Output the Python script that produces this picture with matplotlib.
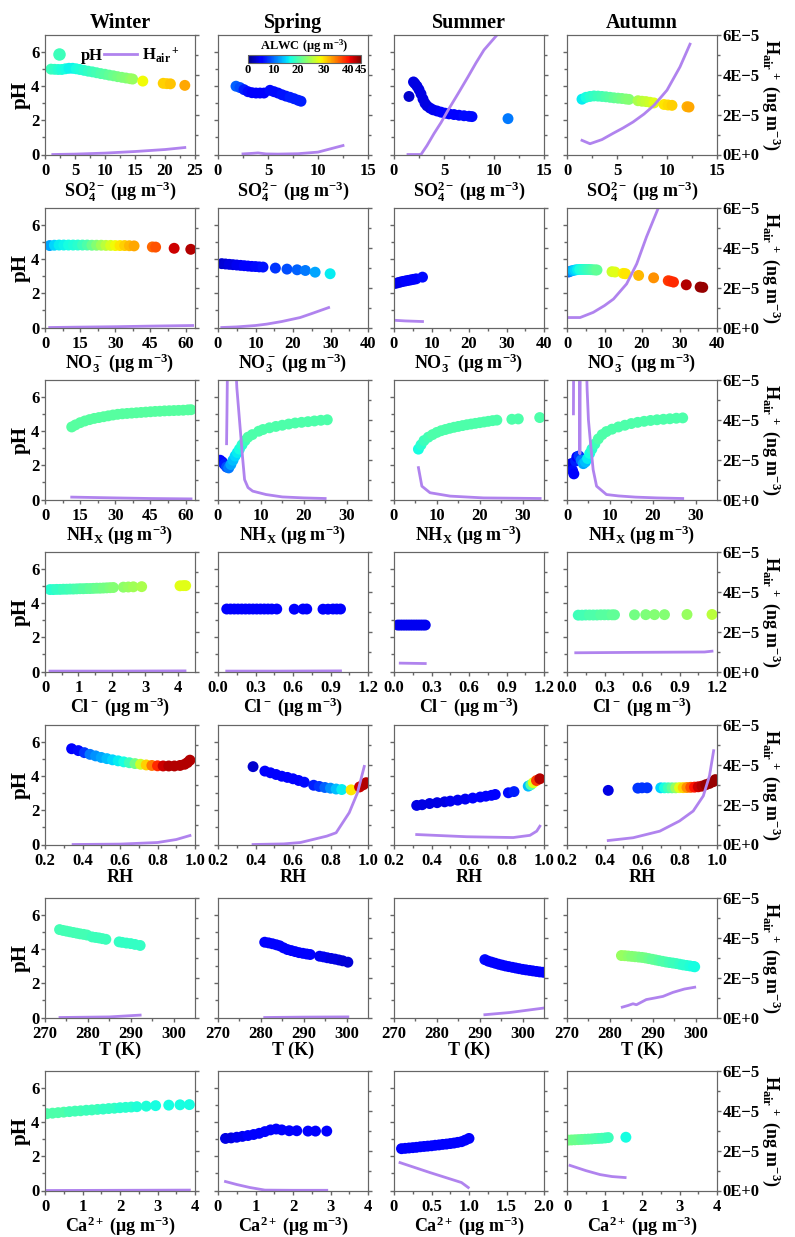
import numpy as np
import matplotlib
matplotlib.use("Agg")
import matplotlib.pyplot as plt
from matplotlib.lines import Line2D
from matplotlib.ticker import FixedLocator, FuncFormatter

plt.rcParams['font.family'] = 'Liberation Serif'
plt.rcParams['font.weight'] = 'bold'
plt.rcParams['mathtext.fontset'] = 'custom'
plt.rcParams['mathtext.rm'] = 'Liberation Serif:bold'
plt.rcParams['mathtext.it'] = 'Liberation Serif:italic:bold'
plt.rcParams['mathtext.bf'] = 'Liberation Serif:bold'

# -----------------------------
# data: x, pH, ALWC (ug m-3) for the dots; hx, h5 (H_air+ in 1E-5 ng m-3) for the line
# -----------------------------
seasons = ["Winter", "Spring", "Summer", "Autumn"]

# SO4
so4_win_x = [1.0, 1.6, 2.2, 2.8, 3.4, 4.0, 4.6, 5.2, 5.8, 6.5, 7.2, 7.9, 8.6, 9.3, 10.0, 10.7, 11.4, 12.1, 12.8, 13.5, 14.2, 14.6, 16.3, 19.7, 20.3, 20.9, 23.3]
so4_win_ph = [5.0, 4.99, 4.98, 4.98, 5.02, 5.05, 5.05, 5.02, 4.98, 4.93, 4.88, 4.84, 4.79, 4.74, 4.7, 4.65, 4.61, 4.56, 4.52, 4.48, 4.44, 4.42, 4.3, 4.17, 4.15, 4.14, 4.05]
so4_win_alwc = [19, 18.5, 18, 17.5, 17, 16.5, 16.5, 17, 17.5, 18, 18.5, 19, 19.5, 20, 20.5, 21, 21.5, 22, 22.5, 23, 23.5, 24, 29, 31, 31, 31.5, 33]
so4_win_hx = [1.3, 5, 10, 15, 20, 23.3]
so4_win_h5 = [0.0, 0.02, 0.07, 0.15, 0.25, 0.35]

so4_spr_x = [1.8, 2.2, 2.6, 3.0, 3.4, 3.8, 4.2, 4.6, 5.2, 5.6, 6.0, 6.4, 6.8, 7.2, 7.6, 8.0, 8.3]
so4_spr_ph = [4.0, 3.92, 3.8, 3.68, 3.62, 3.6, 3.6, 3.6, 3.76, 3.68, 3.6, 3.5, 3.42, 3.35, 3.27, 3.18, 3.12]
so4_spr_alwc = [10, 9, 7, 6, 5, 5, 5, 5, 6, 6, 6, 6.5, 6.5, 7, 7, 7, 7]
so4_spr_hx = [2.5, 3.5, 4.0, 4.8, 6, 8, 10, 12.5]
so4_spr_h5 = [0.03, 0.06, 0.08, 0.03, 0.02, 0.04, 0.12, 0.45]

so4_sum_x = [1.5, 1.95, 2.1, 2.3, 2.5, 2.7, 2.9, 3.1, 3.3, 3.6, 3.9, 4.3, 4.7, 5.1, 5.5, 6.0, 6.5, 7.0, 7.5, 7.8, 11.4]
so4_sum_ph = [3.4, 4.25, 4.15, 4.0, 3.8, 3.55, 3.25, 3.0, 2.85, 2.72, 2.62, 2.55, 2.48, 2.42, 2.38, 2.34, 2.3, 2.27, 2.24, 2.22, 2.1]
so4_sum_alwc = [3, 4, 4, 4, 4, 4, 4, 4, 4, 4, 4.5, 4.5, 5, 5, 5, 5.5, 5.5, 6, 6, 6, 11]
so4_sum_hx = [1.4, 2.7, 3.3, 4.0, 4.7, 5.4, 6.4, 7.4, 8.2, 9.0, 10.3, 10.6]
so4_sum_h5 = [0.0, 0.0, 0.45, 1.05, 1.6, 2.22, 3.05, 3.9, 4.6, 5.25, 6.0, 6.3]

so4_aut_x = [1.5, 1.9, 2.3, 2.7, 3.1, 3.5, 3.9, 4.3, 4.7, 5.1, 5.5, 5.9, 6.2, 7.1, 7.5, 7.9, 8.3, 8.7, 9.7, 10.1, 10.5, 12.0, 12.2]
so4_aut_ph = [3.24, 3.35, 3.4, 3.43, 3.42, 3.4, 3.38, 3.35, 3.32, 3.3, 3.28, 3.25, 3.23, 3.15, 3.12, 3.1, 3.06, 3.02, 2.93, 2.9, 2.88, 2.8, 2.78]
so4_aut_alwc = [16, 17, 18, 18.5, 19, 19.5, 20, 20.5, 21, 21.5, 22, 22.5, 23, 25, 26, 26.5, 27, 28, 30, 30.5, 31, 32.5, 33]
so4_aut_hx = [1.5, 2.3, 3.5, 4.6, 5.6, 6.6, 7.7, 8.7, 10, 11.3, 12.3]
so4_aut_h5 = [0.71, 0.54, 0.75, 1.06, 1.33, 1.63, 2.03, 2.47, 3.23, 4.4, 5.54]

# NO3
no3_win_x = [2, 4, 6, 8, 10, 12, 14, 16, 18, 20, 22, 24, 26, 28, 30, 32, 34, 36, 38, 45.8, 47.2, 55.1, 62.2]
no3_win_ph = [4.8, 4.82, 4.83, 4.83, 4.83, 4.83, 4.83, 4.83, 4.83, 4.82, 4.82, 4.82, 4.81, 4.81, 4.8, 4.8, 4.8, 4.79, 4.78, 4.72, 4.71, 4.64, 4.58]
no3_win_alwc = [13, 15, 16, 16.5, 17, 17.5, 18, 19, 20, 21.5, 23, 24.5, 26, 27.5, 29, 30, 31, 32, 33, 36, 37, 42, 43]
no3_win_hx = [2, 15, 30, 45, 63]
no3_win_h5 = [0.0, 0.02, 0.04, 0.07, 0.1]

no3_spr_x = [1, 2, 3, 4, 5, 6, 7, 8, 9, 10, 11, 12, 15.3, 18.4, 21.1, 23.3, 25.9, 29.9]
no3_spr_ph = [3.74, 3.72, 3.7, 3.68, 3.66, 3.64, 3.62, 3.6, 3.58, 3.57, 3.55, 3.54, 3.48, 3.42, 3.38, 3.34, 3.24, 3.15]
no3_spr_alwc = [3, 3.5, 4, 4, 4.5, 4.5, 5, 5, 5.5, 6, 6, 6.5, 8, 9, 10, 11, 13, 16]
no3_spr_hx = [1, 5, 10, 13, 17, 21.9, 25, 29.5]
no3_spr_h5 = [0.0, 0.03, 0.1, 0.17, 0.3, 0.5, 0.7, 1.0]

no3_sum_x = [0.3, 1.0, 1.7, 2.4, 3.1, 3.8, 4.5, 5.2, 5.9, 7.6]
no3_sum_ph = [2.58, 2.62, 2.66, 2.7, 2.73, 2.76, 2.79, 2.82, 2.85, 2.95]
no3_sum_alwc = [4, 4, 4.5, 4.5, 5, 5, 5, 5.5, 5.5, 6]
no3_sum_hx = [0.3, 3, 7.6]
no3_sum_h5 = [0.36, 0.33, 0.3]

no3_aut_x = [0.4, 1.0, 1.6, 2.2, 2.8, 3.4, 4.0, 4.6, 5.2, 5.8, 6.4, 7.0, 7.6, 8.0, 12.0, 12.8, 15.0, 15.6, 19.1, 23.1, 27.0, 27.6, 28.4, 31.8, 35.5, 36.2]
no3_aut_ph = [3.25, 3.3, 3.34, 3.37, 3.39, 3.4, 3.4, 3.4, 3.4, 3.4, 3.39, 3.38, 3.37, 3.37, 3.27, 3.25, 3.17, 3.15, 3.05, 2.91, 2.74, 2.71, 2.66, 2.5, 2.37, 2.35]
no3_aut_alwc = [10, 12, 14, 15, 16, 17, 17.5, 18, 18.5, 19, 19.5, 20, 20.5, 21, 27, 28, 29.5, 30, 32, 34, 38, 38.5, 39, 43, 44, 44]
no3_aut_hx = [0.4, 3.5, 7.0, 10, 12.4, 15.9, 18.6, 21.2, 24.3, 24.6]
no3_aut_h5 = [0.5, 0.5, 0.76, 1.1, 1.43, 2.19, 3.2, 4.55, 5.98, 6.2]

# NHx
nhx_win_x = [11.4, 13, 15, 17, 19, 21, 23, 25, 27, 29, 31, 33, 35, 37, 39, 41, 43, 45, 47, 49, 51, 53, 55, 57, 59, 61, 62.3]
nhx_win_ph = [4.25, 4.37, 4.5, 4.6, 4.68, 4.75, 4.8, 4.85, 4.9, 4.95, 4.99, 5.02, 5.04, 5.06, 5.08, 5.1, 5.12, 5.14, 5.16, 5.17, 5.19, 5.2, 5.21, 5.22, 5.23, 5.25, 5.26]
nhx_win_alwc = [20.5, 20.5, 20.5, 20.5, 20.5, 20.5, 20.5, 20.5, 20.5, 20.5, 20.5, 20.5, 20.5, 20.5, 20.5, 20.5, 20.5, 20.5, 20.5, 20.5, 20.5, 20.5, 20.5, 20.5, 20.5, 20.5, 20.5]
nhx_win_hx = [11.4, 30, 45, 62.3]
nhx_win_h5 = [0.12, 0.08, 0.05, 0.03]

nhx_spr_x = [0.5, 1.0, 1.5, 2.0, 2.5, 3.0, 3.5, 4.0, 4.5, 5.0, 5.6, 6.3, 7.0, 8.0, 9.5, 10.5, 12, 13.5, 15, 16.5, 18, 19.5, 21, 22.5, 24, 25.5]
nhx_spr_ph = [2.3, 2.2, 2.05, 1.9, 1.85, 2.05, 2.3, 2.55, 2.75, 2.95, 3.2, 3.45, 3.65, 3.8, 4.0, 4.1, 4.2, 4.28, 4.35, 4.42, 4.48, 4.52, 4.56, 4.6, 4.64, 4.67]
nhx_spr_alwc = [5, 6, 7, 9, 11, 13, 14, 15, 16, 17, 18, 19, 20, 20, 20, 20, 20, 20, 20, 20, 20, 20, 20, 20, 20, 20]
nhx_spr_hx = [2.0, 2.1, 2.2, 3.0, 4.2, 4.4, 5.06, 5.7, 6.2, 7.0, 8.1, 11.2, 15, 20, 25]
nhx_spr_h5 = [2.8, 4.5, 6.5, 9.0, 6.5, 5.6, 3.87, 2.19, 1.0, 0.6, 0.42, 0.25, 0.13, 0.08, 0.05]

nhx_sum_x = [5.7, 6.3, 7.0, 8.0, 9.0, 10.0, 11.0, 12, 13, 14, 15, 16, 17, 18, 19, 20, 21, 22, 23, 24, 27.5, 29, 34]
nhx_sum_ph = [2.95, 3.2, 3.45, 3.65, 3.8, 3.93, 4.03, 4.1, 4.17, 4.23, 4.28, 4.33, 4.38, 4.42, 4.46, 4.5, 4.54, 4.58, 4.62, 4.65, 4.7, 4.72, 4.8]
nhx_sum_alwc = [17, 18, 19, 19.5, 20, 20, 20, 20, 20, 20, 20, 20, 20, 20, 20, 20, 20, 20, 20, 20, 20, 20, 20]
nhx_sum_hx = [5.7, 6.5, 8.4, 13.1, 20.9, 34.1]
nhx_sum_h5 = [1.6, 0.67, 0.34, 0.17, 0.08, 0.05]

nhx_aut_x = [0.8, 1.0, 1.3, 1.6, 2.0, 2.3, 2.8, 3.3, 3.8, 4.3, 4.8, 5.3, 5.8, 6.5, 7.3, 8.2, 9.2, 10.5, 12, 13.5, 15, 16.5, 18, 19.5, 21, 22.5, 24, 25.5, 27]
nhx_aut_ph = [1.9, 2.1, 1.7, 1.5, 2.25, 2.5, 2.55, 2.3, 2.1, 2.2, 2.4, 2.7, 2.95, 3.25, 3.55, 3.8, 3.98, 4.12, 4.25, 4.35, 4.45, 4.52, 4.58, 4.63, 4.67, 4.7, 4.73, 4.76, 4.78]
nhx_aut_alwc = [5, 4, 6, 5, 7, 5, 8, 11, 13, 14, 16, 17, 18, 19, 20, 20, 20, 20, 20, 20, 20, 20, 20, 20, 20, 20, 20, 20, 20]
nhx_aut_hx = [1.5, 1.55, 2.9, 3.0, 3.1, 4.5, 4.7, 5.0, 5.5, 6.1, 6.9, 9.2, 12, 16, 21, 27]
nhx_aut_h5 = [4.3, 7.0, 7.0, 2.3, 7.0, 7.0, 5.5, 4.0, 2.8, 1.5, 0.67, 0.25, 0.18, 0.12, 0.08, 0.05]

# Cl
cl_win_x = [0.15, 0.25, 0.35, 0.45, 0.55, 0.65, 0.75, 0.85, 0.95, 1.05, 1.15, 1.25, 1.35, 1.45, 1.55, 1.65, 1.75, 1.85, 1.95, 2.05, 2.35, 2.5, 2.65, 2.9, 4.05, 4.15, 4.22]
cl_win_ph = [4.8, 4.8, 4.81, 4.81, 4.82, 4.82, 4.83, 4.83, 4.84, 4.85, 4.85, 4.86, 4.86, 4.87, 4.88, 4.88, 4.89, 4.9, 4.91, 4.92, 4.94, 4.95, 4.96, 4.97, 5.02, 5.03, 5.03]
cl_win_alwc = [18, 18, 18.5, 18.5, 19, 19, 19.5, 19.5, 20, 20, 20.5, 20.5, 21, 21, 21.5, 21.5, 22, 22, 22.5, 23, 23.5, 24, 24.5, 25, 28, 28, 28]
cl_win_hx = [0.15, 2, 4.2]
cl_win_h5 = [0.02, 0.02, 0.03]

cl_spr_x = [0.07, 0.1, 0.13, 0.16, 0.19, 0.22, 0.25, 0.28, 0.31, 0.34, 0.37, 0.4, 0.43, 0.47, 0.61, 0.68, 0.71, 0.84, 0.88, 0.92, 0.95, 0.98]
cl_spr_ph = [3.66, 3.66, 3.66, 3.66, 3.66, 3.66, 3.66, 3.66, 3.66, 3.66, 3.66, 3.66, 3.66, 3.66, 3.65, 3.66, 3.66, 3.65, 3.65, 3.66, 3.66, 3.66]
cl_spr_alwc = [5, 5, 5, 5, 5, 5, 5, 5, 5, 5, 5, 5, 5, 5, 5, 5, 5, 5, 5, 5, 5, 5]
cl_spr_hx = [0.07, 0.5, 0.98]
cl_spr_h5 = [0.02, 0.02, 0.03]

cl_sum_x = [0.03, 0.05, 0.07, 0.09, 0.11, 0.13, 0.15, 0.17, 0.19, 0.21, 0.23, 0.25]
cl_sum_ph = [2.72, 2.72, 2.72, 2.72, 2.72, 2.72, 2.72, 2.72, 2.72, 2.72, 2.72, 2.72]
cl_sum_alwc = [4.5, 4.5, 4.5, 4.5, 4.5, 4.5, 4.5, 4.5, 4.5, 4.5, 4.5, 4.5]
cl_sum_hx = [0.05, 0.25]
cl_sum_h5 = [0.42, 0.4]

cl_aut_x = [0.09, 0.12, 0.15, 0.18, 0.21, 0.24, 0.27, 0.3, 0.33, 0.36, 0.38, 0.54, 0.63, 0.7, 0.78, 0.96, 1.16]
cl_aut_ph = [3.3, 3.3, 3.31, 3.31, 3.31, 3.31, 3.32, 3.32, 3.32, 3.32, 3.32, 3.32, 3.33, 3.33, 3.33, 3.34, 3.34]
cl_aut_alwc = [19, 19.5, 19.5, 20, 20, 20, 20.5, 20.5, 20.5, 21, 21, 22, 22.5, 23, 23, 24, 26]
cl_aut_hx = [0.07, 0.52, 1.1, 1.16]
cl_aut_h5 = [0.94, 0.96, 0.98, 1.02]

# RH
rh_win_x = [0.342, 0.378, 0.41, 0.44, 0.47, 0.5, 0.53, 0.56, 0.59, 0.62, 0.65, 0.68, 0.71, 0.74, 0.77, 0.8, 0.83, 0.86, 0.89, 0.92, 0.945, 0.96, 0.973]
rh_win_ph = [5.61, 5.5, 5.38, 5.28, 5.19, 5.1, 5.03, 4.96, 4.9, 4.84, 4.79, 4.74, 4.7, 4.66, 4.63, 4.61, 4.6, 4.6, 4.6, 4.63, 4.7, 4.8, 4.94]
rh_win_alwc = [5, 6, 8, 11, 12, 13, 14, 15, 16, 17, 19, 22, 27, 31, 35, 39, 42, 43, 43, 43, 43, 43, 43]
rh_win_hx = [0.35, 0.6, 0.8, 0.9, 0.973]
rh_win_h5 = [0.0, 0.02, 0.1, 0.25, 0.45]

rh_spr_x = [0.387, 0.45, 0.48, 0.51, 0.54, 0.57, 0.6, 0.63, 0.66, 0.71, 0.74, 0.77, 0.8, 0.83, 0.86, 0.91, 0.955, 0.975, 0.99]
rh_spr_ph = [4.56, 4.3, 4.2, 4.1, 4.0, 3.93, 3.85, 3.75, 3.65, 3.47, 3.4, 3.34, 3.3, 3.25, 3.22, 3.2, 3.37, 3.5, 3.62]
rh_spr_alwc = [3, 5, 5, 5, 5, 5, 5.5, 5.5, 6, 7, 8, 10, 12, 14, 16, 30, 42, 43, 43]
rh_spr_hx = [0.387, 0.55, 0.64, 0.78, 0.83, 0.9, 0.944, 0.98]
rh_spr_h5 = [0.0, 0.03, 0.1, 0.42, 0.59, 1.6, 2.6, 3.92]

rh_sum_x = [0.321, 0.35, 0.39, 0.43, 0.47, 0.5, 0.54, 0.58, 0.62, 0.66, 0.69, 0.72, 0.74, 0.81, 0.84, 0.916, 0.93, 0.943, 0.96, 0.978]
rh_sum_ph = [2.29, 2.33, 2.4, 2.45, 2.5, 2.54, 2.6, 2.66, 2.72, 2.78, 2.83, 2.88, 2.93, 3.03, 3.1, 3.42, 3.5, 3.62, 3.75, 3.85]
rh_sum_alwc = [4, 4, 4, 4, 4, 4.5, 4.5, 4.5, 5, 5, 5, 5.5, 5.5, 6, 7, 14, 20, 28, 38, 43]
rh_sum_hx = [0.321, 0.587, 0.836, 0.925, 0.961, 0.978]
rh_sum_h5 = [0.5, 0.39, 0.35, 0.46, 0.67, 0.92]

rh_aut_x = [0.42, 0.578, 0.6, 0.627, 0.7, 0.72, 0.74, 0.76, 0.78, 0.8, 0.82, 0.84, 0.86, 0.88, 0.9, 0.92, 0.94, 0.96, 0.98, 0.991]
rh_aut_ph = [3.17, 3.3, 3.32, 3.32, 3.32, 3.32, 3.32, 3.32, 3.32, 3.33, 3.33, 3.34, 3.35, 3.36, 3.38, 3.42, 3.5, 3.58, 3.68, 3.8]
rh_aut_alwc = [4, 8, 8, 8, 15, 17, 19, 21, 24, 28, 31, 34, 37, 40, 42, 43, 44, 44, 44, 44]
rh_aut_hx = [0.42, 0.553, 0.695, 0.8, 0.873, 0.927, 0.96, 0.982]
rh_aut_h5 = [0.2, 0.34, 0.67, 1.18, 1.68, 2.44, 3.45, 4.71]

# T
t_win_x = [273.4, 274.2, 275, 275.8, 276.6, 277.4, 278.2, 279, 279.8, 281, 281.8, 282.6, 283.4, 284.2, 287.3, 288, 289, 290, 291, 292.2]
t_win_ph = [5.15, 5.1, 5.06, 5.02, 4.98, 4.94, 4.9, 4.87, 4.83, 4.72, 4.69, 4.66, 4.62, 4.58, 4.43, 4.4, 4.36, 4.33, 4.28, 4.22]
t_win_alwc = [19.5, 19.5, 19.5, 19.5, 19.5, 19.5, 19.5, 19.5, 19.5, 19, 19, 19, 19, 19, 18.5, 18.5, 18.5, 18.5, 18.5, 18.5]
t_win_hx = [273.5, 285, 292.2]
t_win_h5 = [0.0, 0.03, 0.12]

t_spr_x = [280.9, 281.8, 282.7, 283.6, 284.4, 285.3, 286.2, 287.1, 288, 288.9, 289.8, 290.7, 291.5, 293.7, 294.6, 295.5, 296.4, 297.3, 298.2, 299.1, 300.3]
t_spr_ph = [4.41, 4.37, 4.32, 4.26, 4.2, 4.08, 3.98, 3.92, 3.86, 3.8, 3.76, 3.72, 3.69, 3.59, 3.55, 3.5, 3.46, 3.42, 3.37, 3.32, 3.24]
t_spr_alwc = [5.5, 5.5, 5.5, 5.5, 5.5, 5.5, 5.5, 5, 5, 5, 5, 5, 5, 4.5, 4.5, 4.5, 4, 4, 4, 3.5, 3.5]
t_spr_hx = [280.9, 290, 300.3]
t_spr_h5 = [0.0, 0.02, 0.03]

t_sum_x = [291.2, 292, 292.8, 293.6, 294.4, 295.2, 296, 296.8, 297.6, 298.4, 299.2, 300, 300.8, 301.6, 302.4, 303.2, 304, 304.8, 305.6]
t_sum_ph = [3.39, 3.3, 3.24, 3.18, 3.12, 3.07, 3.02, 2.98, 2.94, 2.9, 2.86, 2.82, 2.79, 2.76, 2.73, 2.7, 2.67, 2.65, 2.62]
t_sum_alwc = [6, 5.5, 5.5, 5, 5, 5, 5, 5, 5, 5, 5, 5, 5, 5, 5, 5, 5, 5, 5]
t_sum_hx = [291.2, 297, 304.8, 306]
t_sum_h5 = [0.14, 0.25, 0.47, 0.52]

t_aut_x = [282.7, 283.5, 284.3, 285.1, 285.9, 286.7, 287.5, 288.3, 289.1, 289.9, 290.7, 291.5, 292.3, 293.1, 293.9, 294.7, 295.5, 296.3, 297.1, 297.9, 298.7, 299.5, 299.8]
t_aut_ph = [3.63, 3.62, 3.6, 3.58, 3.56, 3.54, 3.52, 3.49, 3.45, 3.41, 3.37, 3.33, 3.29, 3.25, 3.22, 3.19, 3.16, 3.12, 3.08, 3.05, 3.02, 2.99, 2.97]
t_aut_alwc = [24, 24, 23.5, 23, 23, 22.5, 22, 22, 21.5, 21, 21, 20.5, 20, 20, 19.5, 19, 19, 18.5, 18, 18, 17.5, 17, 17]
t_aut_hx = [282.9, 284.2, 285.4, 286.2, 288.5, 290.5, 292.4, 294.7, 297.4, 299.8]
t_aut_h5 = [0.52, 0.6, 0.69, 0.64, 0.9, 0.98, 1.06, 1.26, 1.43, 1.52]

# Ca
ca_win_x = [0.05, 0.2, 0.35, 0.5, 0.65, 0.8, 0.95, 1.1, 1.25, 1.4, 1.55, 1.7, 1.85, 2.0, 2.15, 2.3, 2.45, 2.7, 2.95, 3.3, 3.6, 3.85]
ca_win_ph = [4.5, 4.53, 4.56, 4.59, 4.62, 4.65, 4.67, 4.7, 4.72, 4.75, 4.77, 4.8, 4.82, 4.85, 4.87, 4.89, 4.91, 4.94, 4.97, 5.0, 5.02, 5.03]
ca_win_alwc = [20, 20, 20, 20, 19.5, 19.5, 19.5, 19, 19, 19, 18.5, 18.5, 18.5, 18, 18, 18, 17.5, 17.5, 17, 17, 17, 17]
ca_win_hx = [0.05, 2, 3.85]
ca_win_h5 = [0.0, 0.01, 0.02]

ca_spr_x = [0.2, 0.35, 0.5, 0.65, 0.8, 0.95, 1.1, 1.25, 1.4, 1.55, 1.7, 1.9, 2.1, 2.4, 2.6, 2.9]
ca_spr_ph = [3.05, 3.08, 3.12, 3.17, 3.22, 3.28, 3.35, 3.45, 3.55, 3.6, 3.55, 3.5, 3.5, 3.48, 3.48, 3.48]
ca_spr_alwc = [4, 4, 4.5, 4.5, 5, 5, 5, 5, 5, 5, 5, 5, 5, 5, 5, 5]
ca_spr_hx = [0.2, 0.5, 0.85, 1.25, 2.0, 2.9]
ca_spr_h5 = [0.45, 0.3, 0.15, 0.02, 0.01, 0.01]

ca_sum_x = [0.1, 0.15, 0.2, 0.25, 0.3, 0.35, 0.4, 0.45, 0.5, 0.55, 0.6, 0.65, 0.7, 0.75, 0.8, 0.85, 0.9, 0.95, 1.0]
ca_sum_ph = [2.45, 2.47, 2.49, 2.51, 2.53, 2.56, 2.58, 2.6, 2.62, 2.65, 2.67, 2.7, 2.72, 2.75, 2.78, 2.82, 2.86, 2.95, 3.05]
ca_sum_alwc = [5, 5, 5, 5, 5, 5, 5, 5, 5, 5, 5, 5, 5, 5, 5, 5, 5, 5, 5]
ca_sum_hx = [0.08, 0.48, 0.9, 0.99]
ca_sum_h5 = [1.4, 0.9, 0.4, 0.15]

ca_aut_x = [0.03, 0.12, 0.21, 0.3, 0.39, 0.48, 0.57, 0.66, 0.75, 0.84, 0.93, 1.02, 1.1, 1.57]
ca_aut_ph = [2.95, 2.96, 2.97, 2.98, 2.99, 3.0, 3.01, 3.02, 3.04, 3.05, 3.06, 3.08, 3.1, 3.12]
ca_aut_alwc = [22, 22, 21.5, 21.5, 21, 21, 20.5, 20.5, 20, 20, 19.5, 19.5, 19, 17]
ca_aut_hx = [0.08, 0.5, 0.88, 1.2, 1.55]
ca_aut_h5 = [1.26, 1.0, 0.8, 0.7, 0.65]

xlabels = [r"SO$_4^{2-}$ (μg m$^{-3}$)", r"NO$_3^-$ (μg m$^{-3}$)", r"NH$_\mathrm{X}$ (μg m$^{-3}$)",
           r"Cl$^-$ (μg m$^{-3}$)", "RH", "T (K)", r"Ca$^{2+}$ (μg m$^{-3}$)"]
h_label = r"H$_\mathrm{air}$$^+$ (ng m$^{-3}$)"

rows = [
    [(so4_win_x, so4_win_ph, so4_win_alwc, so4_win_hx, so4_win_h5),
     (so4_spr_x, so4_spr_ph, so4_spr_alwc, so4_spr_hx, so4_spr_h5),
     (so4_sum_x, so4_sum_ph, so4_sum_alwc, so4_sum_hx, so4_sum_h5),
     (so4_aut_x, so4_aut_ph, so4_aut_alwc, so4_aut_hx, so4_aut_h5)],
    [(no3_win_x, no3_win_ph, no3_win_alwc, no3_win_hx, no3_win_h5),
     (no3_spr_x, no3_spr_ph, no3_spr_alwc, no3_spr_hx, no3_spr_h5),
     (no3_sum_x, no3_sum_ph, no3_sum_alwc, no3_sum_hx, no3_sum_h5),
     (no3_aut_x, no3_aut_ph, no3_aut_alwc, no3_aut_hx, no3_aut_h5)],
    [(nhx_win_x, nhx_win_ph, nhx_win_alwc, nhx_win_hx, nhx_win_h5),
     (nhx_spr_x, nhx_spr_ph, nhx_spr_alwc, nhx_spr_hx, nhx_spr_h5),
     (nhx_sum_x, nhx_sum_ph, nhx_sum_alwc, nhx_sum_hx, nhx_sum_h5),
     (nhx_aut_x, nhx_aut_ph, nhx_aut_alwc, nhx_aut_hx, nhx_aut_h5)],
    [(cl_win_x, cl_win_ph, cl_win_alwc, cl_win_hx, cl_win_h5),
     (cl_spr_x, cl_spr_ph, cl_spr_alwc, cl_spr_hx, cl_spr_h5),
     (cl_sum_x, cl_sum_ph, cl_sum_alwc, cl_sum_hx, cl_sum_h5),
     (cl_aut_x, cl_aut_ph, cl_aut_alwc, cl_aut_hx, cl_aut_h5)],
    [(rh_win_x, rh_win_ph, rh_win_alwc, rh_win_hx, rh_win_h5),
     (rh_spr_x, rh_spr_ph, rh_spr_alwc, rh_spr_hx, rh_spr_h5),
     (rh_sum_x, rh_sum_ph, rh_sum_alwc, rh_sum_hx, rh_sum_h5),
     (rh_aut_x, rh_aut_ph, rh_aut_alwc, rh_aut_hx, rh_aut_h5)],
    [(t_win_x, t_win_ph, t_win_alwc, t_win_hx, t_win_h5),
     (t_spr_x, t_spr_ph, t_spr_alwc, t_spr_hx, t_spr_h5),
     (t_sum_x, t_sum_ph, t_sum_alwc, t_sum_hx, t_sum_h5),
     (t_aut_x, t_aut_ph, t_aut_alwc, t_aut_hx, t_aut_h5)],
    [(ca_win_x, ca_win_ph, ca_win_alwc, ca_win_hx, ca_win_h5),
     (ca_spr_x, ca_spr_ph, ca_spr_alwc, ca_spr_hx, ca_spr_h5),
     (ca_sum_x, ca_sum_ph, ca_sum_alwc, ca_sum_hx, ca_sum_h5),
     (ca_aut_x, ca_aut_ph, ca_aut_alwc, ca_aut_hx, ca_aut_h5)],
]

# axis ranges and tick labels for each panel
xlims = [[(0, 25), (0, 15), (0, 15), (0, 15)],
         [(0, 64), (0, 40), (0, 40), (0, 40)],
         [(0, 64), (0, 35), (0, 35), (0, 35)],
         [(0, 4.5), (0, 1.2), (0, 1.2), (0, 1.2)],
         [(0.2, 1.0)] * 4,
         [(270, 305)] * 4,
         [(0, 4), (0, 4), (0, 2), (0, 4)]]
ticks_so4_w = ["0", "5", "10", "15", "20", "25"]
ticks_15 = ["0", "5", "10", "15"]
ticks_60 = ["0", "15", "30", "45", "60"]
ticks_40 = ["0", "10", "20", "30", "40"]
ticks_30 = ["0", "10", "20", "30"]
ticks_4 = ["0", "1", "2", "3", "4"]
ticks_12 = ["0.0", "0.3", "0.6", "0.9", "1.2"]
ticks_rh = ["0.2", "0.4", "0.6", "0.8", "1.0"]
ticks_t = ["270", "280", "290", "300"]
ticks_ca2 = ["0", "0.5", "1.0", "1.5", "2.0"]
xticklabels = [[ticks_so4_w, ticks_15, ticks_15, ticks_15],
               [ticks_60, ticks_40, ticks_40, ticks_40],
               [ticks_60, ticks_30, ticks_30, ticks_30],
               [ticks_4, ticks_12, ticks_12, ticks_12],
               [ticks_rh] * 4,
               [ticks_t] * 4,
               [ticks_4, ticks_4, ticks_ca2, ticks_4]]

# -----------------------------
# layout (pixels)
# -----------------------------
W, H = 795, 1237
col_left = [45, 218, 394, 567]
row_top = [35, 208, 380, 552, 725, 898, 1071]
AW, AH = 150, 119.5

purple = "#b083ee"
spine_c = "#666666"
cmap = plt.get_cmap("jet")
norm = plt.Normalize(0, 45)

fig = plt.figure(figsize=(W / 100, H / 100), dpi=100)

h_fmt = FuncFormatter(lambda v, p: "0E+0" if abs(v) < 1e-12 else "%dE\u22125" % round(v / 1e-5))
cb_src = None

for r in range(7):
    for c in range(4):
        x, ph, alwc, hx, h5 = rows[r][c]
        ax = fig.add_axes([col_left[c] / W, 1 - (row_top[r] + AH) / H, AW / W, AH / H])
        sc = ax.scatter(x, ph, c=alwc, cmap=cmap, norm=norm, s=62, edgecolors="none", zorder=3)
        if r == 0 and c == 1:
            cb_src = sc

        labs = xticklabels[r][c]
        vals = [float(v) for v in labs]
        step = vals[1] - vals[0]
        ax.set_xlim(*xlims[r][c])
        ax.xaxis.set_major_locator(FixedLocator(vals))
        ax.xaxis.set_minor_locator(FixedLocator([v + step / 2 for v in vals[:-1]]))
        ax.set_xticklabels(labs)
        ax.set_ylim(0, 7)
        ax.yaxis.set_major_locator(FixedLocator([0, 2, 4, 6]))
        ax.yaxis.set_minor_locator(FixedLocator([1, 3, 5]))
        ax.tick_params(which="major", direction="out", length=3, width=1, color=spine_c,
                       labelsize=12, pad=1)
        ax.tick_params(which="minor", direction="out", length=2, width=1, color=spine_c)
        ax.tick_params(axis="x", pad=3)
        ax.tick_params(axis="y", labelleft=(c == 0))
        ax.set_xlabel(xlabels[r], fontsize=13, fontweight="bold", labelpad=0)
        if c == 0:
            ax.set_ylabel("pH", fontsize=15, fontweight="bold", labelpad=0)
        if r == 0:
            ax.set_title(seasons[c], fontsize=14.5, fontweight="bold", pad=5)

        ax2 = ax.twinx()
        ax2.plot(hx, np.array(h5) * 1e-5, color=purple, lw=2)
        ax2.set_ylim(0, 6e-5)
        ax2.yaxis.set_major_locator(FixedLocator([0, 2e-5, 4e-5, 6e-5]))
        ax2.yaxis.set_minor_locator(FixedLocator([1e-5, 3e-5, 5e-5]))
        ax2.yaxis.set_major_formatter(h_fmt)
        ax2.tick_params(which="major", direction="out", length=3, width=1, color=spine_c,
                        labelsize=12, pad=1)
        ax2.tick_params(which="minor", direction="out", length=2, width=1, color=spine_c)
        ax2.tick_params(axis="y", labelright=(c == 3))
        for a in (ax, ax2):
            for s in a.spines.values():
                s.set_color(spine_c)

        if r == 0 and c == 0:
            handles = [Line2D([], [], ls="none", marker="o", markersize=9,
                              markerfacecolor=cmap(norm(so4_win_alwc[0])), markeredgecolor="none"),
                       Line2D([], [], color=purple, lw=2)]
            ax2.legend(handles, ["pH", r"H$_\mathrm{air}$$^+$"], ncol=2, loc="upper left",
                       bbox_to_anchor=(-0.12, 1.04), frameon=False, fontsize=12,
                       handlelength=2.0, handletextpad=0.3, columnspacing=0.1)

    # right-hand H_air+ axis title
    yc = 1 - (row_top[r] + AH / 2) / H
    fig.text(771 / W, yc, h_label, rotation=270, ha="center", va="center",
             fontsize=13, fontweight="bold")

# ALWC colour bar inside the Spring SO4 panel
cax = fig.add_axes([248 / W, 1 - 63 / H, 113 / W, 8.5 / H])
cb = fig.colorbar(cb_src, cax=cax, orientation="horizontal", ticks=[0, 10, 20, 30, 40, 45])
cb.ax.tick_params(labelsize=9, length=0, pad=1)
cb.outline.set_edgecolor(spine_c)
cax.set_title(r"ALWC (μg m$^{-3}$)", fontsize=9, fontweight="bold", pad=2)

fig.savefig("out.png", dpi=100)
